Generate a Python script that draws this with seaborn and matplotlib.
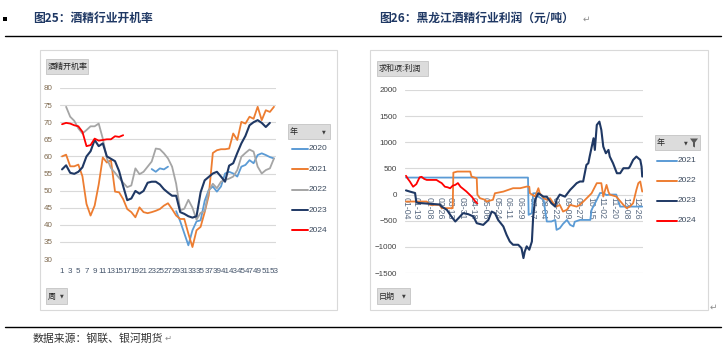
import numpy as np
import pandas as pd
import matplotlib
matplotlib.use("Agg")
import matplotlib.pyplot as plt
import seaborn as sns
from matplotlib.patches import Rectangle, Polygon
from matplotlib.lines import Line2D

# ---------------- data ----------------
nan = np.nan
weeks = list(range(1, 54))
week_ticks = list(range(1, 54, 2))

rate_2020 = [nan] * 22 + [56.3, 55.5, 56.5, 56.2, 57.0, nan,
             44.0, 41.0, 37.5, 34.0, 38.4, 41.0, 41.3, 47.0, 50.2, 51.2,
             49.7, 51.2, 55.0, 55.5, 55.0, 54.1, 57.0, 57.5, 58.9, 58.0,
             60.4, 60.9, 60.4, 59.8, 59.4]
rate_2021 = [60.0, 60.5, 57.1, 57.1, 57.6, 54.2, 46.1, 42.7, 45.6, 51.8,
             59.7, 58.2, 58.9, 49.7, 49.5, 47.5, 44.6, 43.7, 42.2, 45.1,
             43.7, 43.4, 43.7, 44.1, 44.6, 45.6, 46.3, 44.6, 42.7, 41.7,
             41.7, 37.4, 33.5, 38.4, 39.4, 43.7, 48.6, 61.0, 61.8, 62.1,
             62.1, 62.3, 66.7, 64.8, 70.1, 69.6, 71.6, 71.0, 74.5, 70.6,
             73.5, 73.0, 74.5]
rate_2022 = [nan, 74.5, 71.6, 70.4, 68.2, 66.7, 67.7, 68.8, 68.8, 69.6,
             65.2, 59.4, 56.6, 55.2, 53.7, 52.3, 51.0, 51.5, 56.5, 54.8,
             55.5, 57.0, 58.5, 62.3, 62.1, 60.9, 59.4, 57.0, 52.0, 44.2,
             44.7, 47.3, 45.0, 41.5, 43.5, 44.0, 50.0, 52.0, 50.7, 52.6,
             53.1, 53.5, 54.1, 56.0, 59.9, 61.0, 62.0, 61.4, 57.0, 55.0,
             56.0, 56.5, 59.4]
rate_2023 = [56.2, 57.4, 55.2, 54.9, 55.5, 56.8, 60.0, 61.5, 64.8, 63.0,
             63.8, 60.0, 59.3, 58.6, 55.7, 51.3, 47.2, 47.7, 49.9, 49.1,
             49.9, 52.3, 52.6, 52.6, 51.8, 50.4, 49.4, 48.5, 48.5, 43.7,
             43.2, 42.5, 42.1, 42.5, 49.5, 53.0, 54.0, 55.0, 55.5, 54.1,
             52.6, 57.3, 58.0, 61.0, 63.8, 66.0, 69.1, 70.0, 70.6, 69.8,
             68.6, 69.8, nan]
rate_2024 = [69.4, 69.8, 69.6, 69.1, 68.8, 67.2, 63.0, 63.3, 65.2, 64.6,
             64.8, 65.0, 65.0, 65.9, 65.7, 66.2] + [nan] * 37

rate_years = ["2020", "2021", "2022", "2023", "2024"]
rate_series = [rate_2020, rate_2021, rate_2022, rate_2023, rate_2024]

# profit (day of year, yuan/ton)
profit_2021_day = [4, 192, 193, 198, 200, 205, 208, 216, 221, 228, 234, 236, 241, 246, 252,
                   257, 262, 264, 272, 288, 290, 298, 303, 308, 313, 318, 328, 334, 349, 368]
profit_2021 = [325, 325, -388, -355, 25, 25, -40, -100, -515, -515, -485, -675, -643, -560, -485,
               -580, -610, -520, -485, -485, -292, -100, 30, 30, -10, 0, 0, -230, -230, -230]
profit_2022_day = [4, 36, 41, 56, 59, 76, 77, 83, 103, 105, 113, 114, 118, 126, 128, 138, 141, 154,
                   169, 180, 190, 194, 195, 203, 208, 210, 216, 221, 226, 231, 236, 241, 246, 252,
                   257, 267, 272, 280, 290, 298, 305, 308, 313, 316, 318, 328, 339, 344, 349, 354,
                   359, 362, 365, 368]
profit_2022 = [-133, -133, -197, -197, -260, -260, 420, 440, 440, 344, 313, 0, -70, -100, -133, -100,
               25, 57, 122, 122, 153, 150, 25, -38, 122, 30, -70, -100, -70, -165, -230, -197, -325,
               -290, -197, -230, -197, -100, 25, 218, 218, -38, 185, 50, 0, -38, -197, -260, -230,
               -165, 90, 218, 250, 57]
profit_2023_day = [4, 10, 18, 20, 23, 56, 59, 67, 74, 80, 85, 92, 100, 108, 113, 123, 131, 136, 141,
                   146, 154, 159, 164, 169, 177, 182, 185, 187, 190, 194, 198, 200, 203, 208, 216,
                   221, 228, 234, 236, 241, 249, 257, 262, 267, 272, 277, 282, 285, 287, 293, 295,
                   298, 302, 305, 308, 312, 316, 318, 323, 329, 334, 339, 347, 349, 354, 359, 365,
                   367, 368]
profit_2023 = [80, 57, 30, -150, -160, -190, -230, -292, -420, -515, -450, -355, -375, -420, -547,
               -580, -485, -325, -355, -485, -610, -770, -898, -960, -960, -1025, -1215, -1090,
               -990, -1055, -898, -420, -100, 25, -40, -40, -165, -230, -100, 0, -40, 90, 153, 218,
               250, 250, 567, 600, 727, 1077, 854, 1331, 1395, 1236, 917, 790, 854, 727, 600, 408,
               408, 504, 504, 535, 663, 727, 663, 535, 344]
profit_2024_day = [4, 7, 10, 15, 20, 25, 28, 32, 36, 51, 56, 59, 64, 68, 72, 76, 80, 84, 88, 92,
                   97, 102, 106, 110, 114]
profit_2024 = [360, 300, 250, 150, 200, 330, 340, 300, 280, 280, 240, 220, 150, 140, 120, 170,
               185, 220, 150, 110, 60, 0, -50, -120, -170]

profit_years = ["2021", "2022", "2023", "2024"]
profit_days = [profit_2021_day, profit_2022_day, profit_2023_day, profit_2024_day]
profit_series = [profit_2021, profit_2022, profit_2023, profit_2024]

date_tick_days = [4, 19, 39, 57, 72, 90, 108, 126, 144, 162, 180, 198, 216, 234, 252, 270,
                  288, 306, 324, 342, 360]
date_tick_labels = ["01-04", "01-19", "02-08", "02-26", "03-13", "03-31", "04-18", "05-06",
                    "05-24", "06-11", "06-29", "07-17", "08-04", "08-22", "09-09", "09-27",
                    "10-15", "11-02", "11-20", "12-08", "12-26"]

colors = {"2020": "#5B9BD5", "2021": "#ED7D31", "2022": "#A5A5A5", "2023": "#1F3864", "2024": "#FF0000"}
profit_colors = {"2021": "#5B9BD5", "2022": "#ED7D31", "2023": "#1F3864", "2024": "#FF0000"}

# ---------------- figure ----------------
sns.set_theme(style="white")
plt.rcParams["font.family"] = ["Noto Sans CJK SC", "DejaVu Sans"]
NUMFONT = "Liberation Sans"

W, H = 727, 352
fig = plt.figure(figsize=(W / 100, H / 100), dpi=100)
fig.patch.set_facecolor("white")


def fx(x):
    return x / W


def fy(y):
    return 1 - y / H


def px_axes(x0, y0, x1, y1):
    return fig.add_axes([fx(x0), fy(y1), fx(x1) - fx(x0), fy(y0) - fy(y1)])


def draw_line(ax, x, y, color, lw=1.4):
    df = pd.DataFrame({"x": x, "y": y})
    df["seg"] = df["y"].isna().cumsum()
    df = df.dropna()
    sns.lineplot(data=df, x="x", y="y", units="seg", estimator=None, sort=False,
                 color=color, linewidth=lw, ax=ax, legend=False)


def rect(x0, y0, x1, y1, fc="none", ec="#D9D9D9", lw=0.8, z=1):
    r = Rectangle((fx(x0), fy(y1)), fx(x1) - fx(x0), fy(y0) - fy(y1),
                  transform=fig.transFigure, facecolor=fc, edgecolor=ec, lw=lw, zorder=z)
    fig.add_artist(r)


def button(x0, y0, x1, y1, text, arrow_x=None, fs=5.8):
    rect(x0, y0, x1, y1, fc="#DCDCDC", ec="#C4C4C4", lw=0.6, z=3)
    fig.text(fx(x0 + 2), fy((y0 + y1) / 2 + 0.3), text, fontsize=fs, color="#262626",
             va="center", ha="left", zorder=4)
    if arrow_x is not None:
        fig.text(fx(arrow_x), fy((y0 + y1) / 2), "▼", fontsize=3.5, color="#404040",
                 va="center", ha="center", family="DejaVu Sans", zorder=4)


# panel frames
rect(40, 50, 337, 310)
rect(370, 50, 708, 310)

# ---------------- left chart ----------------
ax1 = px_axes(60, 88, 276, 259)
for yr, ser in zip(rate_years, rate_series):
    draw_line(ax1, weeks, ser, colors[yr], lw=1.5 if yr == "2023" else 1.3)
ax1.set_xlim(0.5, 53.5)
ax1.set_ylim(30, 80)
ax1.set_yticks(range(30, 81, 5))
ax1.set_xticks(week_ticks)
ax1.set_xticklabels([str(w) for w in week_ticks])
ax1.set_xlabel("")
ax1.set_ylabel("")
ax1.yaxis.grid(True, color="#D9D9D9", lw=0.8)
ax1.xaxis.grid(False)
for s in ax1.spines.values():
    s.set_visible(False)
ax1.tick_params(axis="y", length=0, pad=5.5, labelsize=5.8, labelcolor="#7F6A50")
ax1.tick_params(axis="x", length=0, pad=6.5, labelsize=5.8, labelcolor="#44546A")
for lab in ax1.get_xticklabels() + ax1.get_yticklabels():
    lab.set_family(NUMFONT)
ax1.set_facecolor("white")

button(46, 59, 88, 74, "酒精开机率")
button(46, 288, 67, 304, "周", arrow_x=62)
button(288, 124, 330, 139, "年", arrow_x=324)
for i, yr in enumerate(rate_years):
    y = 148.8 + i * 20.4
    fig.add_artist(Line2D([fx(291.5), fx(308)], [fy(y), fy(y)], color=colors[yr], lw=1.4,
                          transform=fig.transFigure))
    fig.text(fx(309), fy(y), yr, fontsize=6, va="center", ha="left", color="#3B4A5E",
             family=NUMFONT)

# ---------------- right chart ----------------
ax2 = px_axes(405, 90, 643, 273)
for yr, d, ser in zip(profit_years, profit_days, profit_series):
    draw_line(ax2, d, ser, profit_colors[yr], lw=1.5 if yr == "2023" else 1.3)
for s in ax2.spines.values():
    s.set_visible(False)
ax2.spines["bottom"].set_position(("data", 0))
ax2.set_xlim(2.5, 369.2)
ax2.set_ylim(-1500, 2000)
ax2.set_yticks(range(-1500, 2001, 500))
ax2.set_xticks(date_tick_days)
ax2.set_xticklabels(date_tick_labels)
ax2.set_xlabel("")
ax2.set_ylabel("")
ax2.yaxis.grid(True, color="#D9D9D9", lw=0.8)
ax2.xaxis.grid(False)
ax2.tick_params(axis="y", length=0, pad=5.5, labelsize=5.8, labelcolor="#404040")
ax2.tick_params(axis="x", length=0, pad=1.5, labelsize=6.3, labelcolor="#5A6B82",
                labelrotation=-90)
for lab in ax2.get_xticklabels() + ax2.get_yticklabels():
    lab.set_family(NUMFONT)
for lab in ax2.get_xticklabels():
    lab.set_va("top")
    lab.set_ha("center")
ax2.set_facecolor("white")

button(377, 61, 428, 76, "求和项:利润")
button(377, 288, 410, 304, "日期", arrow_x=404)
button(655, 135, 700, 150, "年", arrow_x=686)
funnel = Polygon([[fx(690), fy(138.5)], [fx(698), fy(138.5)], [fx(695), fy(142.5)],
                  [fx(695), fy(147.5)], [fx(693), fy(146.5)], [fx(693), fy(142.5)]],
                 closed=True, transform=fig.transFigure, facecolor="#595959",
                 edgecolor="none", zorder=5)
fig.add_artist(funnel)
for i, yr in enumerate(profit_years):
    y = 160.7 + i * 20.1
    fig.add_artist(Line2D([fx(657), fx(677)], [fy(y), fy(y)], color=profit_colors[yr], lw=1.4,
                          transform=fig.transFigure))
    fig.text(fx(678), fy(y), yr, fontsize=6, va="center", ha="left", color="#3B4A5E",
             family=NUMFONT)

# ---------------- page text ----------------
fig.add_artist(Rectangle((fx(3), fy(21)), fx(4), fy(17) - fy(21), transform=fig.transFigure,
                         facecolor="black", edgecolor="none"))
fig.text(fx(33), fy(18.5), "图25：酒精行业开机率", fontsize=8.5, fontweight="bold",
         color="#1F3864", va="center", ha="left")
fig.text(fx(379), fy(18.5), "图26：黑龙江酒精行业利润（元/吨）", fontsize=8.5, fontweight="bold",
         color="#1F3864", va="center", ha="left")
fig.text(fx(583), fy(19), "↵", fontsize=6.5, color="#8C8C8C", va="center", ha="left",
         family="DejaVu Sans")
fig.add_artist(Line2D([fx(5), fx(721)], [fy(36), fy(36)], color="black", lw=1.0,
                      transform=fig.transFigure))
fig.text(fx(710), fy(307), "↵", fontsize=6.5, color="#8C8C8C", va="center", ha="left",
         family="DejaVu Sans")
fig.add_artist(Line2D([fx(5), fx(721)], [fy(327), fy(327)], color="black", lw=1.0,
                      transform=fig.transFigure))
fig.text(fx(33), fy(338.5), "数据来源：钢联、银河期货", fontsize=7.8, color="#333333",
         va="center", ha="left")
fig.text(fx(165), fy(338.5), "↵", fontsize=6, color="#8C8C8C", va="center", ha="left",
         family="DejaVu Sans")

fig.savefig("out.png", dpi=100, facecolor="white")
